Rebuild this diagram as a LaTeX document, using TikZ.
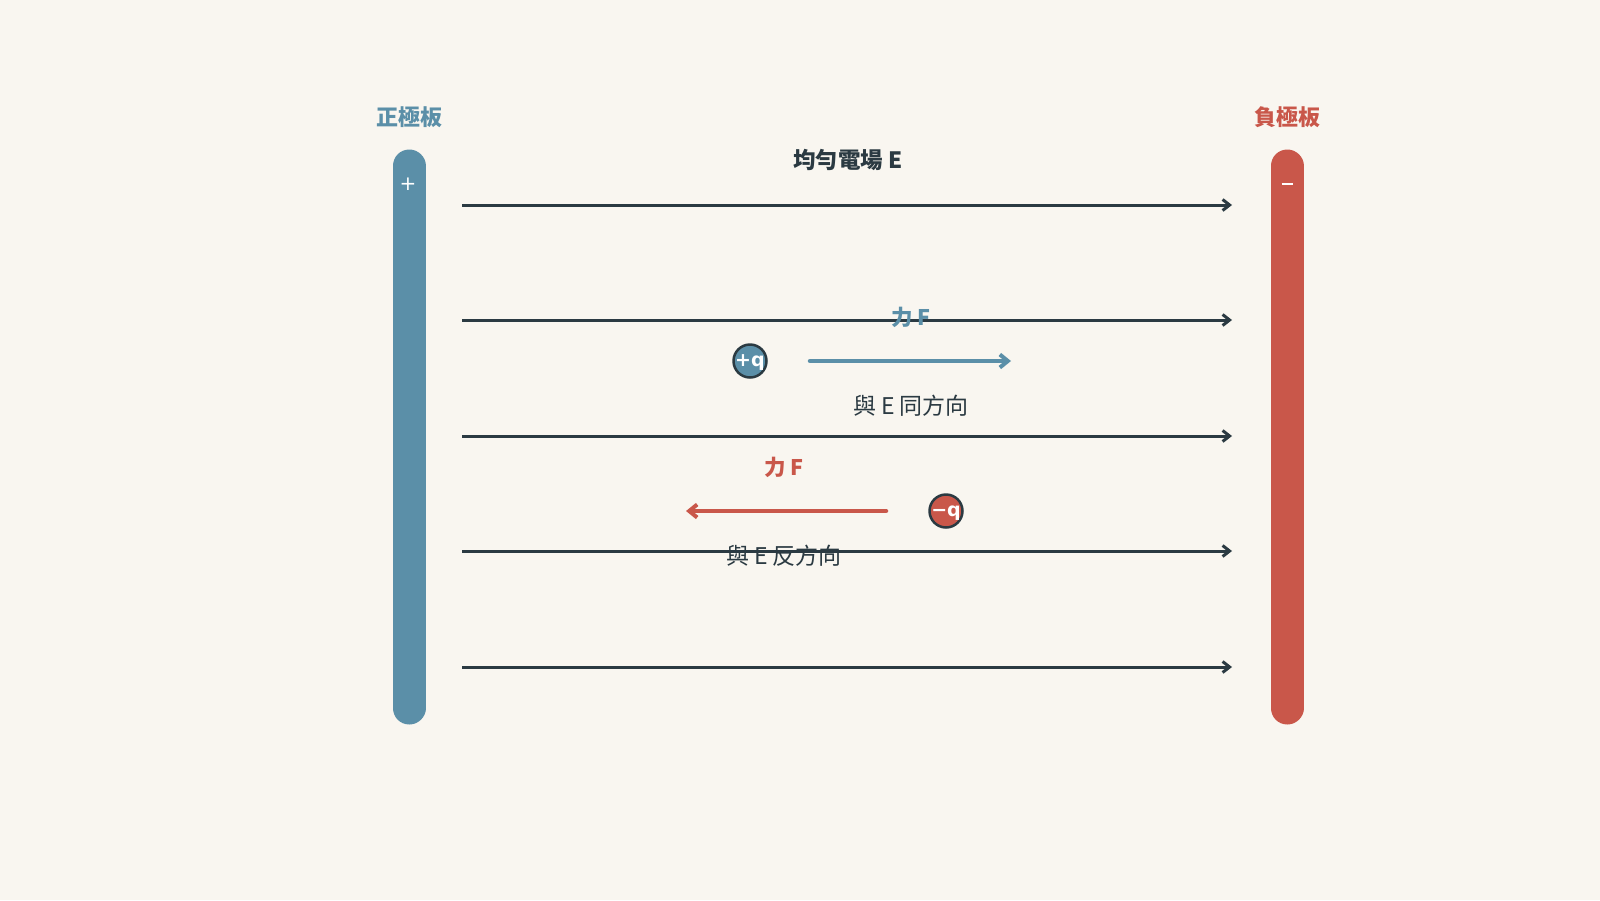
\documentclass[tikz,border=0pt]{standalone}
\usepackage{fontspec}
\setmainfont{Noto Sans CJK TC}
\newfontfamily\latinsans{DejaVu Sans}
\usetikzlibrary{arrows.meta}
\definecolor{bg}{HTML}{F9F6F0}
\definecolor{posc}{HTML}{5B8FA8}
\definecolor{negc}{HTML}{C9574A}
\definecolor{ink}{HTML}{2B3A42}
\begin{document}
\begin{tikzpicture}[x=1pt,y=-1pt,
  fieldline/.style={draw=ink,line width=3pt,-{Straight Barb[length=7pt,width=11pt,line width=3pt]}},
  forcearrow/.style={line width=4.5pt,line cap=round,-{Straight Barb[length=8pt,width=13pt,line width=4pt]}},
  plate/.style={line width=33pt,line cap=round},
  lbl/.style={font=\fontsize{22}{24}\selectfont\bfseries},
  flbl/.style={font=\fontsize{21.5}{24}\selectfont\bfseries},
  txt/.style={font=\fontsize{23}{26}\selectfont, text=ink},
  sign/.style={text=white,inner sep=0pt,font=\latinsans\fontsize{20}{20}\selectfont},
  charge/.style={circle,draw=ink,line width=2.5pt,minimum size=33pt,inner sep=0pt,text depth=0pt,text=white,font=\latinsans\fontsize{19}{19}\selectfont\bfseries}]
\fill[bg] (0,0) rectangle (1600,900);
\useasboundingbox (0,0) rectangle (1600,900);
% plates
\coordinate (lpt) at (409,166);
\coordinate (lpb) at (409,708);
\coordinate (rpt) at (1287,166);
\coordinate (rpb) at (1287,708);
\draw[plate,posc] (lpt) -- (lpb);
\draw[plate,negc] (rpt) -- (rpb);
\node[lbl,text=posc] (lplabel) at (409,117) {正極板};
\node[lbl,text=negc] (rplabel) at (1287,117) {負極板};
\node[sign] (plus) at (408,184) {+};
\node[sign] (minus) at (1287,184) {\rule[-1pt]{11pt}{2.5pt}};
\node[text=ink,font=\fontsize{22.5}{24}\selectfont\bfseries] (title) at (848,160) {均勻電場 E};
% field lines
\foreach \i/\y in {1/205,2/320,3/436,4/551,5/667}{
  \coordinate (fs\i) at (462,\y);
  \coordinate (fe\i) at (1232,\y);
  \draw[fieldline] (fs\i) -- (fe\i);
}
% positive charge
\node[charge,fill=posc] (pq) at (750,361) {+q};
\coordinate (pfs) at (810,361);
\coordinate (pfe) at (1011,361);
\draw[forcearrow,posc] (pfs) -- (pfe);
\node[flbl,text=posc] (pF) at (911,317) {力 F};
\node[txt] (psame) at (911,406) {與 E 同方向};
% negative charge
\node[charge,fill=negc] (nq) at (946,511) {−q};
\coordinate (nfs) at (886,511);
\coordinate (nfe) at (686,511);
\draw[forcearrow,negc] (nfs) -- (nfe);
\node[flbl,text=negc] (nF) at (784,467) {力 F};
\node[txt] (nopp) at (784,556) {與 E 反方向};
\end{tikzpicture}
\end{document}
